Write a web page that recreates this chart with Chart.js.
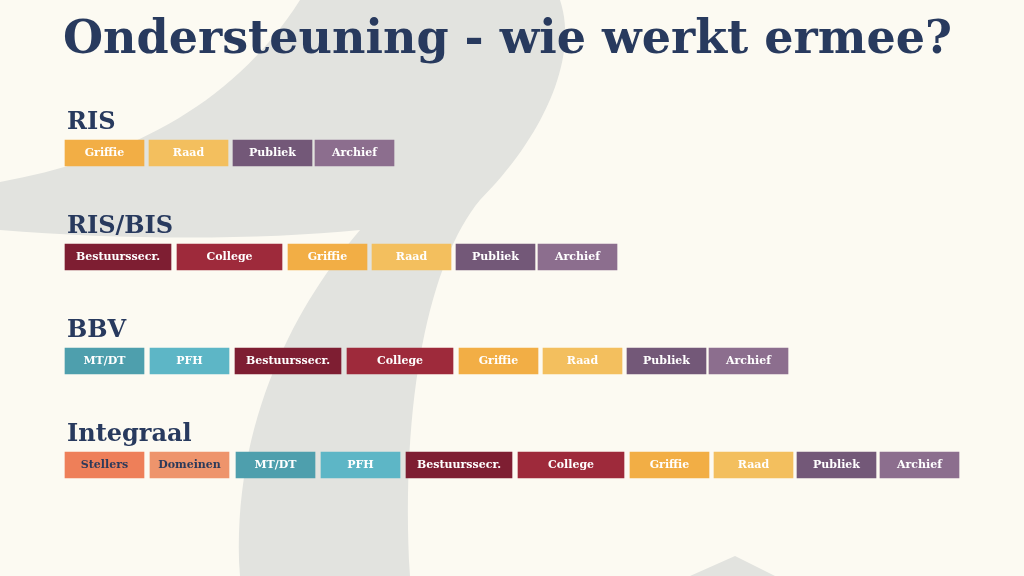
<!DOCTYPE html>
<html><head><meta charset="utf-8">
<script src="https://cdn.jsdelivr.net/npm/chart.js@4"></script>
<style>
html,body{margin:0;padding:0;background:#FCFAF2;}
#wrap{position:relative;width:1024px;height:576px;}
</style></head>
<body><div id="wrap"><canvas id="c" width="1024" height="576"></canvas></div>
<script>
var rows = ["RIS", "RIS/BIS", "BBV", "Integraal"];
var rowItems = [
  ["Griffie", "Raad", "Publiek", "Archief"],
  ["Bestuurssecr.", "College", "Griffie", "Raad", "Publiek", "Archief"],
  ["MT/DT", "PFH", "Bestuurssecr.", "College", "Griffie", "Raad", "Publiek", "Archief"],
  ["Stellers", "Domeinen", "MT/DT", "PFH", "Bestuurssecr.", "College", "Griffie", "Raad", "Publiek", "Archief"]
];
var rowStarts = [
  [65, 149, 233, 315],
  [65, 177, 288, 372, 456, 538],
  [65, 150, 235, 347, 459, 543, 627, 709],
  [65, 150, 236, 321, 406, 518, 630, 714, 797, 880]
];
var rowEnds = [
  [144, 228, 312, 394],
  [171, 282, 367, 451, 535, 617],
  [144, 229, 341, 453, 538, 622, 706, 788],
  [144, 229, 315, 400, 512, 624, 709, 793, 876, 959]
];
var colors = {
  "Griffie": "#F2AE45", "Raad": "#F3BF5E", "Publiek": "#735878", "Archief": "#8C6E8E",
  "Bestuurssecr.": "#7E1E32", "College": "#9E2A3B", "MT/DT": "#4E9FAD", "PFH": "#5DB6C6",
  "Stellers": "#EE7F59", "Domeinen": "#EE946C"
};
var darkText = ["Stellers", "Domeinen"];

// one dataset per slot position
var datasets = [];
for (var s = 0; s < 10; s++) {
  var data = [], bg = [], names = [];
  for (var r = 0; r < rows.length; r++) {
    if (s < rowItems[r].length) {
      data.push([rowStarts[r][s], rowEnds[r][s]]);
      bg.push(colors[rowItems[r][s]]);
      names.push(rowItems[r][s]);
    } else { data.push(null); bg.push("transparent"); names.push(""); }
  }
  datasets.push({ data: data, backgroundColor: bg, names: names, barThickness: 26, grouped: false, borderWidth: 0 });
}

var bgPlugin = {
  id: "bg",
  beforeDraw: function (chart) {
    var ctx = chart.ctx;
    ctx.save();
    ctx.fillStyle = "#FCFAF2";
    ctx.fillRect(0, 0, 1024, 576);
    ctx.fillStyle = "#E2E3DF";
    ctx.beginPath();
    ctx.moveTo(0, 182);
    ctx.bezierCurveTo(120, 160, 230, 110, 300, 0);
    ctx.lineTo(560, 0);
    ctx.bezierCurveTo(580, 60, 540, 140, 480, 200);
    ctx.bezierCurveTo(430, 260, 400, 400, 410, 576);
    ctx.lineTo(240, 576);
    ctx.bezierCurveTo(230, 420, 300, 300, 360, 230);
    ctx.bezierCurveTo(260, 240, 120, 240, 0, 230);
    ctx.closePath();
    ctx.fill();
    ctx.beginPath();
    ctx.moveTo(690, 576);
    ctx.lineTo(735, 556);
    ctx.lineTo(775, 576);
    ctx.closePath();
    ctx.fill();
    ctx.restore();
  },
  afterDatasetsDraw: function (chart) {
    var ctx = chart.ctx;
    ctx.save();
    ctx.textAlign = "center";
    ctx.textBaseline = "middle";
    ctx.font = "bold 11px 'DejaVu Serif'";
    chart.data.datasets.forEach(function (ds, di) {
      chart.getDatasetMeta(di).data.forEach(function (bar, i) {
        var name = ds.names[i];
        if (!name) return;
        ctx.fillStyle = darkText.indexOf(name) >= 0 ? "#2C3A5A" : "#FFFFFF";
        ctx.fillText(name, (bar.x + bar.base) / 2, bar.y);
      });
    });
    // title and row headings
    ctx.fillStyle = "#283A5E";
    ctx.textAlign = "left";
    ctx.textBaseline = "alphabetic";
    ctx.font = "bold 46px 'DejaVu Serif'";
    ctx.fillText("Ondersteuning - wie werkt ermee?", 63, 53);
    ctx.font = "bold 24px 'DejaVu Serif'";
    var ys = chart.scales.y;
    rows.forEach(function (r, i) {
      ctx.fillText(r, 67, ys.getPixelForValue(i) - 24);
    });
    ctx.restore();
  }
};

new Chart(document.getElementById("c"), {
  type: "bar",
  data: { labels: rows, datasets: datasets },
  options: {
    indexAxis: "y",
    responsive: false,
    animation: false,
    layout: { padding: { top: 101, bottom: 59, left: 0, right: 0 } },
    plugins: { legend: { display: false }, tooltip: { enabled: false } },
    scales: {
      x: { type: "linear", min: 0, max: 1024, display: false },
      y: { display: false }
    }
  },
  plugins: [bgPlugin]
});
</script></body></html>
